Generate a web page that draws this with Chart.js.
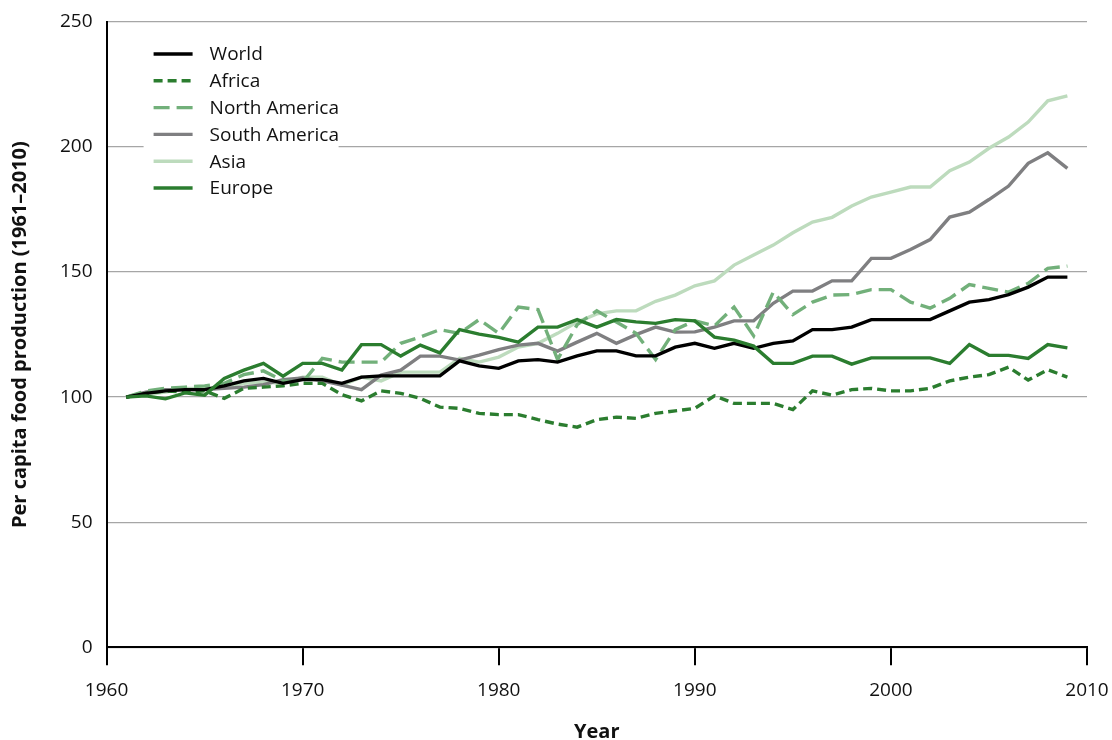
<!DOCTYPE html>
<html>
<head>
<meta charset="utf-8">
<script src="https://cdn.jsdelivr.net/npm/chart.js@4/dist/chart.umd.min.js"></script>
<style>
  html, body { margin: 0; padding: 0; background: #fff; }
  #wrap { width: 1112px; height: 740px; }
</style>
</head>
<body>
<div id="wrap"><canvas id="foodChart" width="1112" height="740"></canvas></div>
<script>
"use strict";
const years = [1961, 1962, 1963, 1964, 1965, 1966, 1967, 1968, 1969, 1970,
    1971, 1972, 1973, 1974, 1975, 1976, 1977, 1978, 1979, 1980,
    1981, 1982, 1983, 1984, 1985, 1986, 1987, 1988, 1989, 1990,
    1991, 1992, 1993, 1994, 1995, 1996, 1997, 1998, 1999, 2000,
    2001, 2002, 2003, 2004, 2005, 2006, 2007, 2008, 2009];

const world = [100, 101.5, 102.5, 103, 103, 104.5, 106.5, 107.5, 105.5, 107,
    107, 105.5, 108, 108.5, 108.5, 108.5, 108.5, 114.5, 112.5, 111.5,
    114.5, 115, 114, 116.5, 118.5, 118.5, 116.5, 116.5, 120, 121.5,
    119.5, 121.5, 119.5, 121.5, 122.5, 127, 127, 128, 131, 131,
    131, 131, 134.5, 138, 139, 141, 144, 148, 148];

const africa = [100, 101.5, 102.5, 102, 102.5, 99.5, 103.5, 104, 104.5, 105.5,
    105.5, 101, 98.5, 102.5, 101.5, 99.5, 96, 95.5, 93.5, 93,
    93, 91, 89.2, 88, 91, 92, 91.5, 93.5, 94.5, 95.5,
    100.5, 97.5, 97.5, 97.5, 95, 102.5, 100.8, 103, 103.5, 102.5,
    102.5, 103.5, 106.5, 108, 109, 112, 106.8, 111, 108];

const northAmerica = [100, 102.5, 103.5, 104, 104.5, 105.5, 109, 110.5, 106.5, 106,
    115.5, 114, 114, 114, 121.5, 124, 127, 125.5, 131, 125.5,
    136, 135, 115, 129, 134.5, 130, 125.5, 115, 127, 130.5,
    128.5, 136, 124.5, 142, 133, 138, 140.8, 141, 143, 143,
    138, 135.6, 139.5, 145, 143.5, 142, 145.5, 151.5, 152.4];

const southAmerica = [100, 102, 103, 103, 103, 103.5, 104, 105, 107, 107.7,
    106.5, 104.8, 103, 108.8, 110.8, 116.4, 116.4, 114.8, 116.8, 119,
    120.8, 121.5, 118.4, 122, 125.5, 121.5, 125, 128, 126, 126.1,
    128, 130.5, 130.5, 137.5, 142.4, 142.4, 146.5, 146.5, 155.5, 155.5,
    159, 163, 172, 174, 179, 184.4, 193.5, 197.7, 191.5];

const asia = [100, 101, 102, 103.5, 103.5, 104, 105.5, 106, 105.5, 108,
    108, 104.8, 108, 106.5, 110, 110, 110, 115.5, 114, 116,
    120, 121.5, 125.5, 130, 133.3, 134.5, 134.5, 138.3, 140.8, 144.5,
    146.5, 152.8, 156.8, 160.8, 165.7, 170, 171.9, 176.4, 180, 182,
    184, 184, 190.5, 194, 199.5, 204, 210, 218.5, 220.5];

const europe = [100, 100.5, 99.3, 101.7, 100.8, 107.5, 110.8, 113.5, 108.4, 113.5,
    113.5, 110.8, 121, 121, 116.4, 120.8, 117.7, 127, 125.2, 123.9,
    122, 128, 128, 131, 128, 131, 130.1, 129.5, 131, 130.5,
    124, 122.8, 120.4, 113.5, 113.5, 116.4, 116.4, 113.2, 115.7, 115.7,
    115.7, 115.7, 113.5, 121, 116.7, 116.7, 115.5, 121, 119.7];

const seriesNames = ["World", "Africa", "North America", "South America", "Asia", "Europe"];
const seriesValues = [world, africa, northAmerica, southAmerica, asia, europe];
const seriesColors = ["#000000", "#2b7d2f", "#72b07a", "#7f7f81", "#bddbbd", "#2b7d2f"];
const seriesDashes = [[], [9, 5], [16, 7], [], [], []];
const drawOrder = [2, 4, 3, 5, 6, 1];

const FONT = "'Open Sans', 'Noto Sans', sans-serif";

function toPoints(values) {
    return values.map((v, i) => ({ x: years[i], y: v }));
}

// legend drawn inside the plot, over a white box
const insideLegend = {
    id: "insideLegend",
    afterDatasetsDraw(chart) {
        const ctx = chart.ctx;
        const left = chart.chartArea.left;
        const top = chart.chartArea.top;
        ctx.save();
        ctx.fillStyle = "#ffffff";
        ctx.fillRect(left + 37, top + 14, 195, 168);
        ctx.font = "19px " + FONT;
        ctx.textBaseline = "middle";
        chart.data.datasets.forEach((ds, i) => {
            const y = top + 32 + i * 26.8;
            ctx.beginPath();
            ctx.strokeStyle = ds.borderColor;
            ctx.lineWidth = ds.borderWidth;
            ctx.setLineDash(ds.borderDash);
            ctx.moveTo(left + 47, y);
            ctx.lineTo(left + 86, y);
            ctx.stroke();
            ctx.setLineDash([]);
            ctx.fillStyle = "#111111";
            ctx.fillText(ds.label, left + 103, y + 1);
        });
        ctx.restore();
    }
};

const ctx = document.getElementById("foodChart").getContext("2d");
const chart = new Chart(ctx, {
    type: "line",
    data: {
        datasets: seriesNames.map((name, i) => ({
            label: name,
            data: toPoints(seriesValues[i]),
            borderColor: seriesColors[i],
            backgroundColor: seriesColors[i],
            borderWidth: 3.4,
            borderDash: seriesDashes[i],
            pointRadius: 0,
            tension: 0,
            fill: false,
            order: drawOrder[i],
        })),
    },
    options: {
        responsive: false,
        animation: false,
        layout: { padding: { left: 8, right: 0, top: 0, bottom: 0 } },
        plugins: {
            legend: { display: false },
            tooltip: { enabled: false },
        },
        scales: {
            x: {
                type: "linear",
                position: "bottom",
                min: 1960,
                max: 2010,
                afterFit: (scale) => { scale.paddingRight = 25; },
                ticks: {
                    stepSize: 10,
                    color: "#111111",
                    font: { family: FONT, size: 19 },
                    padding: 14,
                    callback: (v) => String(v),
                },
                grid: {
                    drawOnChartArea: false,
                    drawTicks: true,
                    tickLength: 18,
                    color: "#000000",
                    lineWidth: 2,
                },
                border: { color: "#000000", width: 2 },
                title: {
                    display: true,
                    text: "Year",
                    color: "#111111",
                    font: { family: FONT, size: 20, weight: "bold", lineHeight: 0.75 },
                    padding: { top: 9, bottom: 0 },
                },
            },
            y: {
                min: 0,
                max: 250,
                afterFit: (scale) => { scale.paddingTop = 22; },
                ticks: {
                    stepSize: 50,
                    color: "#111111",
                    font: { family: FONT, size: 19 },
                    padding: 14,
                },
                grid: {
                    color: "#a6a6a6",
                    lineWidth: 1.3,
                    drawTicks: false,
                },
                border: { color: "#000000", width: 2 },
                title: {
                    display: true,
                    text: "Per capita food production (1961–2010)",
                    color: "#111111",
                    font: { family: FONT, size: 20, weight: "bold", lineHeight: 1.2 },
                    padding: { top: 0, bottom: 14 },
                },
            },
        },
    },
    plugins: [insideLegend],
});
</script>
</body>
</html>
